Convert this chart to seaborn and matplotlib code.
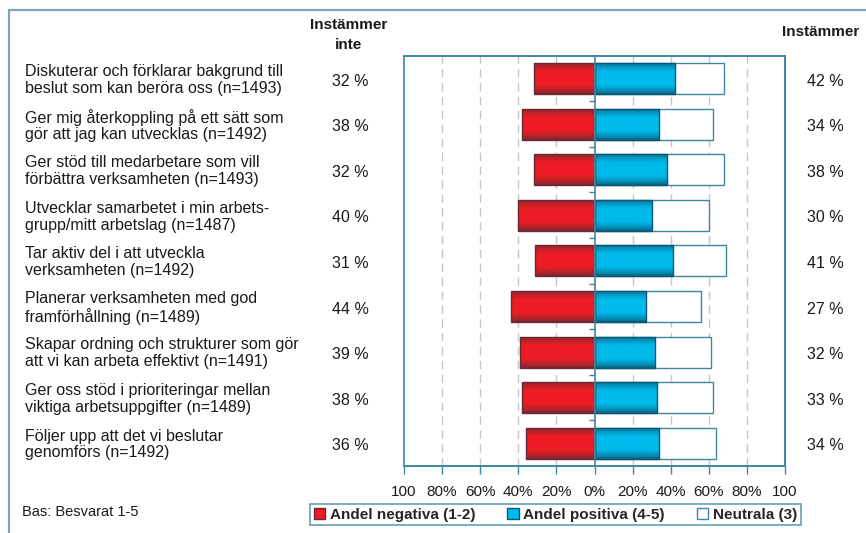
import numpy as np
import pandas as pd
import matplotlib
matplotlib.use("Agg")
import matplotlib.pyplot as plt
import matplotlib.transforms as mtransforms
from matplotlib.colors import LinearSegmentedColormap
from matplotlib.patches import Rectangle, Patch
import seaborn as sns

# ---- data -------------------------------------------------------------
questions = [
    "Diskuterar och förklarar bakgrund till\nbeslut som kan beröra oss (n=1493)",
    "Ger mig återkoppling på ett sätt som\ngör att jag kan utvecklas (n=1492)",
    "Ger stöd till medarbetare som vill\nförbättra verksamheten (n=1493)",
    "Utvecklar samarbetet i min arbets-\ngrupp/mitt arbetslag (n=1487)",
    "Tar aktiv del i att utveckla\nverksamheten (n=1492)",
    "Planerar verksamheten med god\nframförhållning (n=1489)",
    "Skapar ordning och strukturer som gör\natt vi kan arbeta effektivt (n=1491)",
    "Ger oss stöd i prioriteringar mellan\nviktiga arbetsuppgifter (n=1489)",
    "Följer upp att det vi beslutar\ngenomförs (n=1492)",
]
negativa = [32, 38, 32, 40, 31, 44, 39, 38, 36]   # Instämmer inte (1-2)
positiva = [42, 34, 38, 30, 41, 27, 32, 33, 34]   # Instämmer (4-5)
neutrala = [26, 28, 30, 30, 28, 29, 29, 29, 30]   # Neutrala (3)

x_ticks = [-100, -80, -60, -40, -20, 0, 20, 40, 60, 80, 100]
x_tick_labels = ["100", "80%", "60%", "40%", "20%", "0%", "20%", "40%", "60%", "80%", "100"]

legend_labels = ["Andel negativa (1-2)", "Andel positiva (4-5)", "Neutrala (3)"]
header_left = "Instämmer\ninte"
header_right = "Instämmer"
footnote = "Bas: Besvarat 1-5"

# ---- style ------------------------------------------------------------
sns.set_theme(style="white")
plt.rcParams["font.family"] = ["Liberation Sans", "DejaVu Sans"]

RED, RED_DARK = "#ED1C24", "#6a2a33"
BLUE, BLUE_DARK = "#00BAEC", "#0b5774"
FRAME = "#3f86a0"
TEXT = "#1a1a1a"

df = pd.DataFrame({
    "fraga": questions,
    "neg": [-v for v in negativa],
    "pos": positiva,
    "pos_neu": [p + n for p, n in zip(positiva, neutrala)],
})

W, H = 866, 533
fig = plt.figure(figsize=(W / 100, H / 100), dpi=100)
ax = fig.add_axes([404 / W, 1 - 466 / H, 381 / W, (466 - 55.7) / H])

bw = 0.68
# neutral share stacked after the positive share: draw the total first, positive on top
sns.barplot(data=df, x="pos_neu", y="fraga", orient="h", color="white",
            width=bw, edgecolor=FRAME, linewidth=1.0, saturation=1, ax=ax)
sns.barplot(data=df, x="pos", y="fraga", orient="h", color=BLUE,
            width=bw, edgecolor=BLUE_DARK, linewidth=1.0, saturation=1, ax=ax)
sns.barplot(data=df, x="neg", y="fraga", orient="h", color=RED,
            width=bw, edgecolor=RED_DARK, linewidth=1.0, saturation=1, ax=ax)

white_c, blue_c, red_c = ax.containers
for p in white_c:
    p.set_zorder(2)


def shade(container, base, dark):
    """Give each bar a vertical gradient with darker top and bottom edges."""
    cmap = LinearSegmentedColormap.from_list("shade", [dark, base])
    t = np.linspace(0, 1, 80)
    prof = np.clip(np.minimum(t, 1 - t) / 0.30, 0, 1) ** 0.6
    for p in container:
        x0, y0 = p.get_x(), p.get_y()
        w, h = p.get_width(), p.get_height()
        im = ax.imshow(prof[:, None], cmap=cmap, vmin=0, vmax=1,
                       extent=(x0, x0 + w, y0 + h, y0), aspect="auto",
                       interpolation="bilinear", zorder=2.5)
        im.set_clip_path(p)
        p.set_facecolor("none")
        p.set_zorder(3)


shade(blue_c, BLUE, BLUE_DARK)
shade(red_c, RED, RED_DARK)

n = len(questions)
ax.set_xlim(-100, 100)
ax.set_ylim(n - 0.5, -0.5)
ax.set_aspect("auto")

# axes frame and zero line
ax.patch.set_facecolor("white")
for side in ["top", "right", "bottom"]:
    ax.spines[side].set_color(FRAME)
    ax.spines[side].set_linewidth(1.2)
ax.spines["left"].set_position(("data", 0))
ax.spines["left"].set_color(FRAME)
ax.spines["left"].set_linewidth(1.2)
ax.spines["left"].set_zorder(4)
ax.add_patch(Rectangle((0, 0), 1, 1, transform=ax.transAxes, fill=False,
                       edgecolor=FRAME, linewidth=1.2, zorder=5, clip_on=False))

# x axis
ax.set_xticks(x_ticks)
ax.set_xticklabels(x_tick_labels, fontsize=11, color=TEXT)
ax.tick_params(axis="x", direction="out", length=6, width=1.0, color=FRAME,
               pad=8, bottom=True)
ax.set_xlabel("")

# y axis: small separators on the zero line between categories
ax.set_yticks(np.arange(0.5, n - 1, 1.0))
ax.set_yticklabels([])
ax.tick_params(axis="y", direction="out", length=4, width=1.0, color=FRAME, left=True)
ax.set_ylabel("")

# dashed vertical grid (not at 0 or the ends)
for v in x_ticks[1:-1]:
    if v != 0:
        ax.axvline(v, color="#c6c6c6", linewidth=1.0, linestyle=(0, (6, 4)), zorder=1)

# texts beside the plot
tr = mtransforms.blended_transform_factory(fig.transFigure, ax.transData)
for i, q in enumerate(questions):
    ax.text(25 / W, i + 0.03, q, transform=tr, ha="left", va="center",
            fontsize=11.5, color=TEXT, linespacing=1.15, clip_on=False)
    ax.text(350 / W, i + 0.06, f"{negativa[i]} %", transform=tr, ha="center",
            va="center", fontsize=11.5, color=TEXT, clip_on=False)
    ax.text(825 / W, i + 0.06, f"{positiva[i]} %", transform=tr, ha="center",
            va="center", fontsize=11.5, color=TEXT, clip_on=False)

fig.text(349 / W, 1 - 35 / H, header_left, ha="center", va="center",
         fontsize=11, fontweight="bold", color=TEXT, linespacing=1.5)
fig.text(821 / W, 1 - 32 / H, header_right, ha="center", va="center",
         fontsize=11, fontweight="bold", color=TEXT)
fig.text(22 / W, 1 - 512 / H, footnote, ha="left", va="center",
         fontsize=10.5, color=TEXT)

# legend
handles = [
    Patch(facecolor=RED, edgecolor=RED_DARK, linewidth=1.0),
    Patch(facecolor=BLUE, edgecolor=BLUE_DARK, linewidth=1.0),
    Patch(facecolor="white", edgecolor=FRAME, linewidth=1.0),
]
leg = fig.legend(handles, legend_labels, loc="center", ncol=3,
                 bbox_to_anchor=(555.5 / W, 1 - 514.5 / H),
                 prop={"weight": "bold", "size": 11}, frameon=True,
                 fancybox=False, handlelength=0.75, handleheight=0.75,
                 handletextpad=0.3, columnspacing=2.1, borderpad=0.25,
                 borderaxespad=0)
leg.get_frame().set_edgecolor(FRAME)
leg.get_frame().set_linewidth(1.2)

# outer frame (top and left visible)
fig.add_artist(Rectangle((9 / W, -0.1), 1.5, (1 - 10 / H) + 0.1,
                         transform=fig.transFigure, fill=False,
                         edgecolor="#7aa6b8", linewidth=1.6))

fig.savefig("out.png", dpi=100)
